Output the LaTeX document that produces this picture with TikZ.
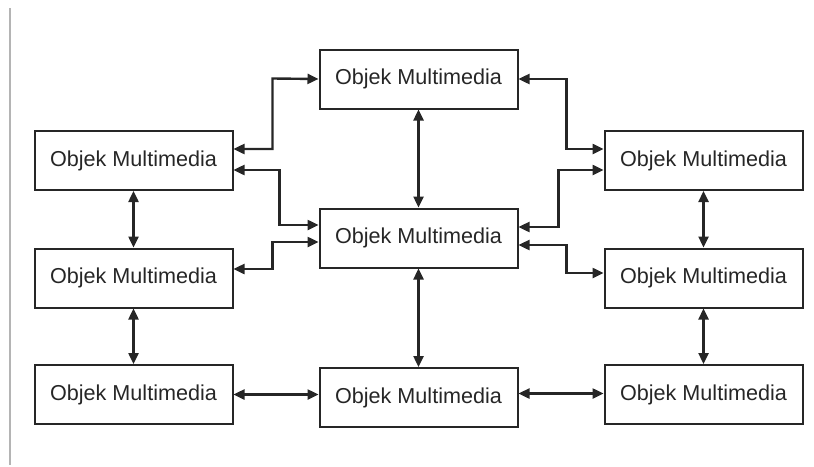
\documentclass[tikz,border=0pt]{standalone}
\usepackage{fontspec}
\setmainfont{Liberation Sans}
\usepackage{tikz}
\usetikzlibrary{arrows.meta}
\definecolor{cink}{HTML}{262626}
\definecolor{cframe}{HTML}{B4B4B4}
\tikzset{obj/.style={draw=cink,line width=1pt,minimum width=99pt,minimum height=29.5pt,inner sep=0pt,text=cink,font=\fontsize{10.8}{13}\selectfont},
  biarr/.style={cink,line width=1.2pt,{Triangle[length=5.5pt,width=5pt]}-{Triangle[length=5.5pt,width=5pt]}}}

\begin{document}
\begin{tikzpicture}[x=0.5pt,y=-0.5pt]
\useasboundingbox (0,0) rectangle (814,466);
\draw[cframe,line width=0.8pt] (10,8) -- (10,465);
\node[obj] (T) at (418.5,79) {Objek Multimedia};
\node[obj] (C) at (418.5,238) {Objek Multimedia};
\node[obj] (B) at (418.5,397.5) {Objek Multimedia};
\node[obj] (L1) at (133.5,160.5) {Objek Multimedia};
\node[obj] (L2) at (133.5,278) {Objek Multimedia};
\node[obj] (L3) at (133.5,394.5) {Objek Multimedia};
\node[obj] (R1) at (703.5,160.5) {Objek Multimedia};
\node[obj] (R2) at (703.5,278) {Objek Multimedia};
\node[obj] (R3) at (703.5,394.5) {Objek Multimedia};
% vertical links
\draw[biarr] (L1.south) -- (L2.north);
\draw[biarr] (L2.south) -- (L3.north);
\draw[biarr] (T.south) -- (C.north);
\draw[biarr] (C.south) -- (B.north);
\draw[biarr] (R1.south) -- (R2.north);
\draw[biarr] (R2.south) -- (R3.north);
% left side elbows
\draw[biarr] ([yshift=5.75pt]L1.east) -| ++(39,-70.5) -- (T.west);
\draw[biarr] ([yshift=-4.75pt]L1.east) -- ++(46,0) |- ([yshift=6.5pt]C.west);
\draw[biarr] ([yshift=4.5pt]L2.east) -- ++(39,0) |- ([yshift=-2pt]C.west);
% right side elbows
\draw[biarr] (T.east) -- ++(48,0) |- ([yshift=5.75pt]R1.west);
\draw[biarr] ([yshift=5.5pt]C.east) -- ++(40,0) |- ([yshift=-4.75pt]R1.west);
\draw[biarr] ([yshift=-3.5pt]C.east) -- ++(48,0) |- ([yshift=2.5pt]R2.west);
% bottom row
\draw[biarr] (L3.east) -- (L3.east -| B.west);
\draw[biarr] ([yshift=2pt]B.east) -- ([yshift=2pt]B.east -| R3.west);
\end{tikzpicture}
\end{document}
